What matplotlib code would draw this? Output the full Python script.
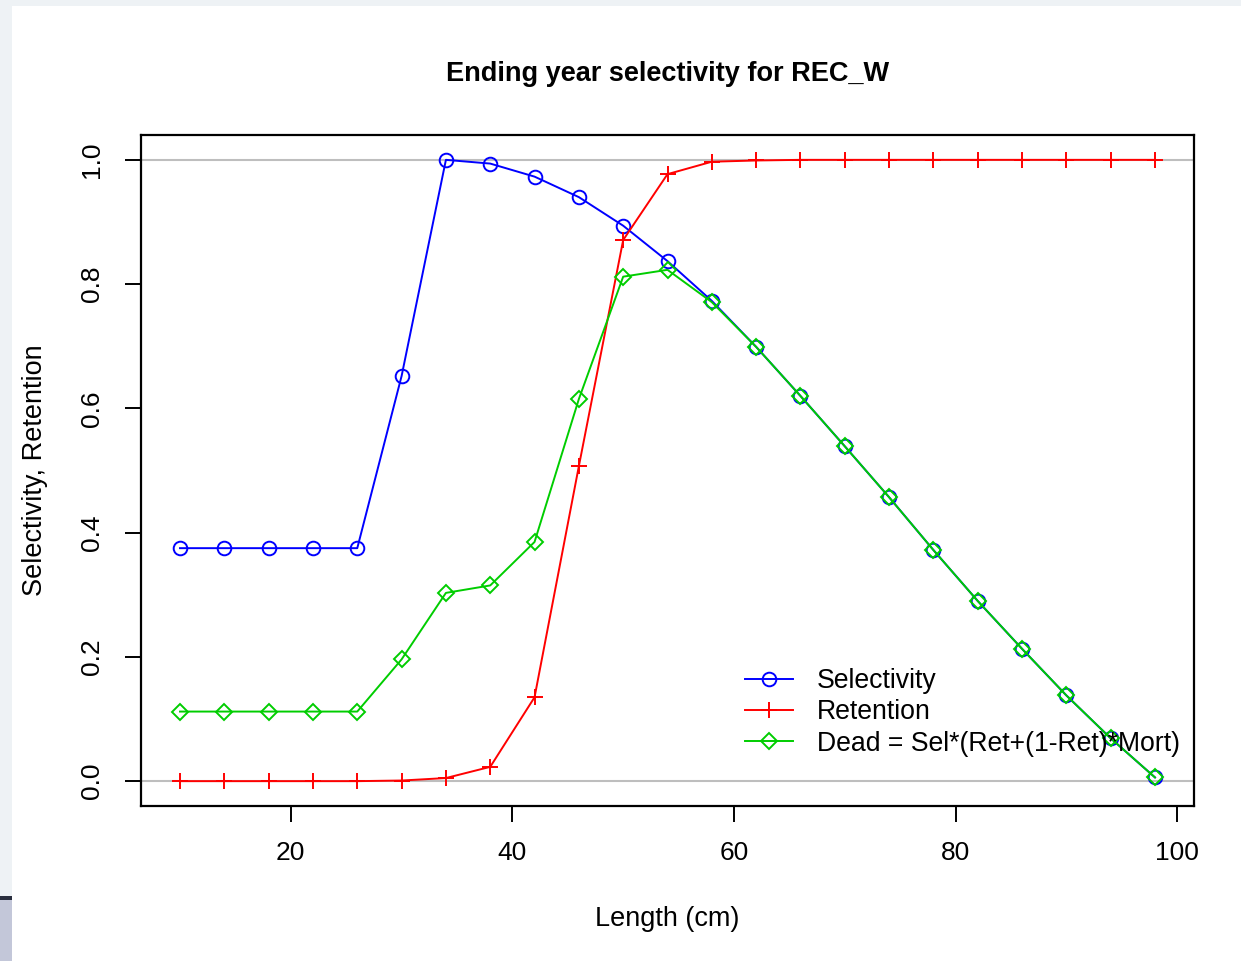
import matplotlib
matplotlib.use("Agg")
import matplotlib.pyplot as plt
from matplotlib.patches import Rectangle

plt.rcParams['font.family'] = ['Liberation Sans', 'DejaVu Sans']

length = [10, 14, 18, 22, 26, 30, 34, 38, 42, 46, 50, 54, 58, 62, 66, 70, 74, 78, 82, 86, 90, 94, 98]
selectivity = [0.375, 0.375, 0.375, 0.375, 0.375, 0.652, 1.0, 0.994, 0.973, 0.940, 0.894, 0.837,
               0.773, 0.699, 0.620, 0.539, 0.457, 0.372, 0.290, 0.213, 0.138, 0.069, 0.006]
retention = [0.0, 0.0, 0.0, 0.0, 0.0, 0.001, 0.005, 0.023, 0.135, 0.507, 0.871, 0.977,
             0.997, 0.999, 1.0, 1.0, 1.0, 1.0, 1.0, 1.0, 1.0, 1.0, 1.0]
dead = [0.112, 0.112, 0.112, 0.112, 0.112, 0.196, 0.303, 0.315, 0.385, 0.615, 0.812, 0.823,
        0.771, 0.699, 0.620, 0.539, 0.457, 0.372, 0.290, 0.213, 0.138, 0.069, 0.006]

W, H = 1241, 961
fig = plt.figure(figsize=(W / 100, H / 100), dpi=100)
fig.patch.set_facecolor('white')
# window frame around the plot device
fig.patches.append(Rectangle((0, 0), 1, 1, transform=fig.transFigure, facecolor='#eef2f5',
                             edgecolor='none', zorder=-3))
fig.patches.append(Rectangle((12 / W, 0), 1, 1 - 6 / H, transform=fig.transFigure,
                             facecolor='white', edgecolor='none', zorder=-2))
fig.patches.append(Rectangle((0, 0), 12 / W, 64 / H, transform=fig.transFigure,
                             facecolor='#c3c7d9', edgecolor='none', zorder=-1))
fig.patches.append(Rectangle((0, 61 / H), 12 / W, 4 / H, transform=fig.transFigure,
                             facecolor='#2a2f3f', edgecolor='none', zorder=-1))

ax = fig.add_axes([141 / W, 1 - 806 / H, (1194 - 141) / W, (806 - 135) / H])

ax.axhline(0, color='#bebebe', lw=1.5, zorder=1)
ax.axhline(1, color='#bebebe', lw=1.5, zorder=1)

ax.plot(length, selectivity, color='#0000ff', lw=1.4, marker='o', ms=9.8, mfc='none',
        mew=1.4, label='Selectivity', zorder=3)
ax.plot(length, retention, color='#ff0000', lw=1.4, marker='+', ms=11, mew=1.4,
        label='Retention', zorder=3)
ax.plot(length, dead, color='#00cd00', lw=1.4, marker='D', ms=8, mfc='none', mew=1.4,
        label='Dead = Sel*(Ret+(1-Ret)*Mort)', zorder=4)

ax.set_xlim(6.48, 101.52)
ax.set_ylim(-0.04, 1.04)
ax.set_xticks([20, 40, 60, 80, 100])
ax.set_yticks([0.0, 0.2, 0.4, 0.6, 0.8, 1.0])
ax.set_yticklabels(['0.0', '0.2', '0.4', '0.6', '0.8', '1.0'], rotation=90, va='center')
ax.tick_params(direction='out', length=11.5, width=1.4, labelsize=19)
ax.tick_params(axis='x', pad=14)
ax.tick_params(axis='y', pad=15)
for s in ax.spines.values():
    s.set_linewidth(1.6)

ax.set_title('Ending year selectivity for REC_W', fontsize=19.5, fontweight='bold', pad=39)
ax.set_xlabel('Length (cm)', fontsize=19.5, labelpad=29)
ax.set_ylabel('Selectivity, Retention', fontsize=19.5, labelpad=23.5)

ax.legend(loc='upper left', bbox_to_anchor=(745 / W, 1 - 668 / H),
          bbox_transform=fig.transFigure, frameon=False, fontsize=19.2,
          handlelength=1.8, handletextpad=0.9, labelspacing=0.2,
          borderpad=0, borderaxespad=0)

fig.savefig('out.png', dpi=100)
